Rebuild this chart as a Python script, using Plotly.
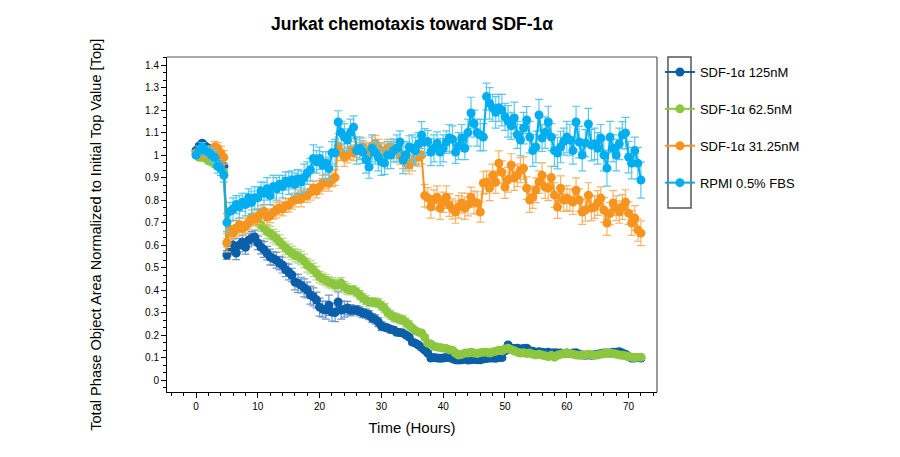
import plotly.graph_objects as go

# Sampling times (hours)
time_h = [
    0, 0.5, 1, 1.5, 2, 2.5, 3, 3.5, 4, 4.5,
    5, 5.5, 6, 6.5, 7, 7.5, 8, 8.5, 9, 9.5,
    10, 10.5, 11, 11.5, 12, 12.5, 13, 13.5, 14, 14.5,
    15, 15.5, 16, 16.5, 17, 17.5, 18, 18.5, 19, 19.5,
    20, 20.5, 21, 21.5, 22, 22.5, 23, 23.5, 24, 24.5,
    25, 25.5, 26, 26.5, 27, 27.5, 28, 28.5, 29, 29.5,
    30, 30.5, 31, 31.5, 32, 32.5, 33, 33.5, 34, 34.5,
    35, 35.5, 36, 36.5, 37, 37.5, 38, 38.5, 39, 39.5,
    40, 40.5, 41, 41.5, 42, 42.5, 43, 43.5, 44, 44.5,
    45, 45.5, 46, 46.5, 47, 47.5, 48, 48.5, 49, 49.5,
    50, 50.5, 51, 51.5, 52, 52.5, 53, 53.5, 54, 54.5,
    55, 55.5, 56, 56.5, 57, 57.5, 58, 58.5, 59, 59.5,
    60, 60.5, 61, 61.5, 62, 62.5, 63, 63.5, 64, 64.5,
    65, 65.5, 66, 66.5, 67, 67.5, 68, 68.5, 69, 69.5,
    70, 70.5, 71, 71.5, 72,
]

series_names = ["SDF-1α 125nM", "SDF-1α 62.5nM", "SDF-1α 31.25nM", "RPMI 0.5% FBS"]

sdf_125 = [
    1.02, 1.04, 1.053, 1.04, 1.03, 1.02, 1.00, 0.98, 0.96, 0.95,
    0.556, 0.58, 0.60, 0.565, 0.60, 0.613, 0.59, 0.622, 0.63, 0.636,
    0.61, 0.591, 0.58, 0.564, 0.547, 0.54, 0.533, 0.52, 0.511, 0.49,
    0.48, 0.467, 0.436, 0.43, 0.422, 0.41, 0.40, 0.378, 0.37, 0.356,
    0.324, 0.315, 0.311, 0.333, 0.302, 0.30, 0.347, 0.311, 0.315, 0.32,
    0.31, 0.311, 0.311, 0.305, 0.298, 0.295, 0.289, 0.276, 0.27, 0.258,
    0.24, 0.236, 0.231, 0.225, 0.222, 0.213, 0.211, 0.209, 0.20, 0.191,
    0.169, 0.164, 0.156, 0.145, 0.133, 0.12, 0.098, 0.10, 0.098, 0.097,
    0.098, 0.10, 0.10, 0.095, 0.09, 0.089, 0.09, 0.093, 0.089, 0.09,
    0.092, 0.09, 0.09, 0.094, 0.096, 0.098, 0.098, 0.097, 0.10, 0.10,
    0.13, 0.156, 0.142, 0.14, 0.142, 0.138, 0.14, 0.142, 0.13, 0.128,
    0.124, 0.126, 0.124, 0.122, 0.124, 0.12, 0.122, 0.12, 0.12, 0.118,
    0.12, 0.118, 0.12, 0.122, 0.115, 0.112, 0.11, 0.112, 0.11, 0.113,
    0.115, 0.118, 0.12, 0.12, 0.12, 0.124, 0.124, 0.126, 0.12, 0.115,
    0.105, 0.098, 0.098, 0.10, 0.098,
]

sdf_62 = [
    1.00, 0.99, 0.99, 0.987, 0.975, 0.97, 0.96, 0.95, 0.94, 0.92,
    0.61, 0.66, 0.655, 0.67, 0.685, 0.675, 0.685, 0.70, 0.71, 0.71,
    0.70, 0.69, 0.676, 0.66, 0.653, 0.64, 0.631, 0.615, 0.60, 0.587,
    0.575, 0.565, 0.556, 0.55, 0.542, 0.53, 0.51, 0.502, 0.49, 0.475,
    0.458, 0.45, 0.444, 0.435, 0.431, 0.422, 0.425, 0.431, 0.413, 0.405,
    0.40, 0.40, 0.39, 0.378, 0.364, 0.355, 0.347, 0.347, 0.345, 0.342,
    0.33, 0.32, 0.30, 0.29, 0.28, 0.276, 0.27, 0.267, 0.255, 0.244,
    0.231, 0.22, 0.213, 0.209, 0.19, 0.164, 0.16, 0.15, 0.147, 0.145,
    0.142, 0.14, 0.135, 0.133, 0.12, 0.111, 0.115, 0.12, 0.12, 0.124,
    0.12, 0.118, 0.122, 0.124, 0.124, 0.12, 0.125, 0.128, 0.133, 0.13,
    0.138, 0.142, 0.135, 0.13, 0.124, 0.12, 0.122, 0.118, 0.12, 0.115,
    0.112, 0.115, 0.111, 0.108, 0.105, 0.11, 0.102, 0.11, 0.115, 0.118,
    0.12, 0.118, 0.115, 0.112, 0.11, 0.111, 0.112, 0.115, 0.113, 0.11,
    0.112, 0.115, 0.118, 0.12, 0.12, 0.118, 0.115, 0.112, 0.11, 0.108,
    0.105, 0.102, 0.10, 0.102, 0.102,
]

sdf_31 = [
    1.01, 1.00, 1.02, 1.01, 1.00, 1.02, 1.036, 1.03, 1.01, 0.99,
    0.61, 0.67, 0.655, 0.675, 0.69, 0.675, 0.685, 0.70, 0.725, 0.715,
    0.725, 0.745, 0.75, 0.725, 0.73, 0.745, 0.756, 0.765, 0.76, 0.775,
    0.778, 0.795, 0.80, 0.815, 0.805, 0.82, 0.82, 0.835, 0.853, 0.84,
    0.858, 0.875, 0.88, 0.875, 0.89, 0.90, 1.04, 1.01, 0.99, 1.00,
    1.02, 1.01, 1.03, 1.02, 1.036, 1.01, 1.02, 1.04, 1.053, 1.03,
    1.02, 1.01, 1.03, 1.036, 1.03, 1.02, 1.00, 0.98, 0.964, 0.956,
    0.97, 0.99, 0.99, 1.00, 0.82, 0.81, 0.77, 0.80, 0.813, 0.764,
    0.79, 0.813, 0.778, 0.76, 0.747, 0.77, 0.787, 0.764, 0.78, 0.813,
    0.79, 0.787, 0.747, 0.876, 0.88, 0.853, 0.91, 0.88, 0.964, 0.924,
    0.858, 0.89, 0.956, 0.898, 0.91, 0.933, 0.942, 0.853, 0.80, 0.813,
    0.844, 0.88, 0.91, 0.858, 0.853, 0.90, 0.822, 0.769, 0.853, 0.80,
    0.809, 0.80, 0.791, 0.844, 0.80, 0.747, 0.756, 0.822, 0.764, 0.769,
    0.787, 0.809, 0.756, 0.698, 0.74, 0.787, 0.764, 0.747, 0.769, 0.791,
    0.742, 0.698, 0.72, 0.667, 0.653,
]

rpmi = [
    1.00, 1.02, 1.036, 1.02, 1.013, 1.00, 0.99, 0.95, 0.94, 0.91,
    0.70, 0.75, 0.76, 0.78, 0.77, 0.79, 0.78, 0.81, 0.79, 0.81,
    0.81, 0.84, 0.83, 0.85, 0.82, 0.86, 0.85, 0.87, 0.86, 0.885,
    0.875, 0.89, 0.87, 0.895, 0.88, 0.90, 0.92, 0.935, 0.985, 0.97,
    0.985, 0.955, 0.965, 0.94, 1.01, 1.01, 1.147, 1.10, 1.08, 1.067,
    1.10, 1.124, 1.02, 1.03, 1.013, 0.98, 0.947, 1.03, 1.01, 0.99,
    0.97, 0.964, 1.00, 1.00, 1.02, 1.03, 1.058, 0.978, 1.00, 1.036,
    1.03, 1.02, 1.05, 1.089, 1.058, 1.06, 1.013, 1.03, 1.053, 1.013,
    1.03, 1.058, 1.076, 1.07, 1.013, 1.04, 1.076, 1.03, 1.10, 1.187,
    1.14, 1.10, 1.089, 1.08, 1.26, 1.23, 1.21, 1.19, 1.21, 1.20,
    1.17, 1.15, 1.13, 1.165, 1.09, 1.067, 1.12, 1.156, 1.08, 1.02,
    1.036, 1.178, 1.076, 1.10, 1.147, 1.08, 1.02, 1.009, 1.036, 1.06,
    1.08, 1.067, 1.02, 1.147, 1.058, 1.00, 1.053, 1.138, 1.044, 1.05,
    1.03, 1.076, 1.00, 0.942, 1.08, 1.03, 1.00, 1.05, 1.089, 1.098,
    0.991, 0.964, 1.02, 0.964, 0.889,
]

# Standard error values
err_125 = [
    0.01, 0.01, 0.01, 0.01, 0.01, 0.01, 0.01, 0.01, 0.01, 0.01,
    0.02, 0.02, 0.03, 0.03, 0.03, 0.03, 0.03, 0.03, 0.03, 0.03,
    0.03, 0.03, 0.035, 0.03, 0.035, 0.03, 0.035, 0.03, 0.035, 0.03,
    0.035, 0.03, 0.035, 0.04, 0.035, 0.04, 0.035, 0.04, 0.04, 0.035,
    0.04, 0.035, 0.04, 0.045, 0.04, 0.04, 0.045, 0.04, 0.035, 0.03,
    0.025, 0.02, 0.02, 0.02, 0.02, 0.02, 0.02, 0.02, 0.02, 0.02,
    0.02, 0.015, 0.015, 0.015, 0.015, 0.015, 0.015, 0.015, 0.01, 0.01,
    0.01, 0.01, 0.01, 0.01, 0.01, 0.01, 0.01, 0.01, 0.01, 0.01,
    0.01, 0.01, 0.01, 0.01, 0.01, 0.01, 0.01, 0.01, 0.01, 0.01,
    0.01, 0.01, 0.01, 0.01, 0.01, 0.01, 0.01, 0.01, 0.01, 0.01,
    0.01, 0.01, 0.01, 0.01, 0.01, 0.01, 0.01, 0.01, 0.01, 0.01,
    0.01, 0.01, 0.01, 0.01, 0.01, 0.01, 0.01, 0.01, 0.01, 0.01,
    0.01, 0.01, 0.01, 0.01, 0.01, 0.01, 0.01, 0.01, 0.01, 0.01,
    0.01, 0.01, 0.01, 0.01, 0.01, 0.01, 0.01, 0.01, 0.01, 0.01,
    0.01, 0.01, 0.01, 0.01, 0.01,
]

err_62 = [
    0.01, 0.01, 0.01, 0.01, 0.01, 0.01, 0.01, 0.01, 0.01, 0.01,
    0.02, 0.02, 0.02, 0.02, 0.02, 0.02, 0.02, 0.02, 0.02, 0.02,
    0.03, 0.03, 0.03, 0.03, 0.03, 0.03, 0.03, 0.03, 0.03, 0.03,
    0.03, 0.03, 0.03, 0.03, 0.03, 0.03, 0.03, 0.03, 0.03, 0.03,
    0.025, 0.025, 0.025, 0.025, 0.025, 0.025, 0.025, 0.025, 0.025, 0.025,
    0.02, 0.02, 0.02, 0.02, 0.02, 0.02, 0.02, 0.02, 0.02, 0.02,
    0.02, 0.02, 0.02, 0.02, 0.02, 0.02, 0.02, 0.02, 0.02, 0.02,
    0.01, 0.01, 0.01, 0.01, 0.01, 0.01, 0.01, 0.01, 0.01, 0.01,
    0.01, 0.01, 0.01, 0.01, 0.01, 0.01, 0.01, 0.01, 0.01, 0.01,
    0.01, 0.01, 0.01, 0.01, 0.01, 0.01, 0.01, 0.01, 0.01, 0.01,
    0.01, 0.01, 0.01, 0.01, 0.01, 0.01, 0.01, 0.01, 0.01, 0.01,
    0.01, 0.01, 0.01, 0.01, 0.01, 0.01, 0.01, 0.01, 0.01, 0.01,
    0.01, 0.01, 0.01, 0.01, 0.01, 0.01, 0.01, 0.01, 0.01, 0.01,
    0.01, 0.01, 0.01, 0.01, 0.01, 0.01, 0.01, 0.01, 0.01, 0.01,
    0.01, 0.01, 0.01, 0.01, 0.01,
]

err_31 = [
    0.01, 0.01, 0.01, 0.01, 0.01, 0.02, 0.025, 0.025, 0.03, 0.03,
    0.04, 0.035, 0.03, 0.035, 0.03, 0.03, 0.035, 0.03, 0.03, 0.03,
    0.03, 0.03, 0.03, 0.035, 0.03, 0.03, 0.035, 0.03, 0.03, 0.03,
    0.03, 0.035, 0.03, 0.03, 0.035, 0.03, 0.03, 0.035, 0.03, 0.03,
    0.03, 0.035, 0.03, 0.035, 0.03, 0.035, 0.04, 0.035, 0.04, 0.035,
    0.04, 0.035, 0.04, 0.035, 0.04, 0.04, 0.035, 0.04, 0.035, 0.04,
    0.035, 0.04, 0.04, 0.035, 0.04, 0.035, 0.04, 0.04, 0.035, 0.04,
    0.04, 0.035, 0.04, 0.04, 0.05, 0.045, 0.05, 0.045, 0.05, 0.05,
    0.045, 0.05, 0.05, 0.045, 0.05, 0.05, 0.045, 0.05, 0.05, 0.045,
    0.05, 0.05, 0.045, 0.05, 0.05, 0.055, 0.05, 0.05, 0.055, 0.05,
    0.05, 0.055, 0.05, 0.055, 0.05, 0.055, 0.05, 0.05, 0.055, 0.05,
    0.055, 0.05, 0.055, 0.05, 0.055, 0.05, 0.055, 0.05, 0.055, 0.05,
    0.055, 0.05, 0.055, 0.055, 0.05, 0.055, 0.05, 0.055, 0.055, 0.05,
    0.055, 0.05, 0.055, 0.055, 0.05, 0.055, 0.055, 0.05, 0.055, 0.055,
    0.05, 0.055, 0.055, 0.05, 0.055,
]

err_rpmi = [
    0.01, 0.02, 0.02, 0.02, 0.02, 0.03, 0.03, 0.03, 0.03, 0.03,
    0.04, 0.04, 0.05, 0.04, 0.05, 0.04, 0.05, 0.04, 0.05, 0.05,
    0.05, 0.04, 0.05, 0.05, 0.04, 0.05, 0.05, 0.04, 0.05, 0.04,
    0.05, 0.04, 0.05, 0.04, 0.05, 0.06, 0.05, 0.05, 0.06, 0.05,
    0.05, 0.06, 0.05, 0.05, 0.05, 0.06, 0.05, 0.05, 0.06, 0.05,
    0.06, 0.05, 0.06, 0.05, 0.05, 0.06, 0.05, 0.06, 0.05, 0.06,
    0.06, 0.05, 0.06, 0.06, 0.05, 0.06, 0.05, 0.06, 0.06, 0.05,
    0.06, 0.06, 0.05, 0.06, 0.06, 0.05, 0.06, 0.06, 0.05, 0.06,
    0.06, 0.05, 0.06, 0.06, 0.05, 0.06, 0.06, 0.05, 0.06, 0.07,
    0.06, 0.06, 0.07, 0.06, 0.06, 0.07, 0.06, 0.07, 0.06, 0.07,
    0.06, 0.07, 0.06, 0.07, 0.06, 0.07, 0.07, 0.06, 0.07, 0.07,
    0.07, 0.07, 0.06, 0.07, 0.07, 0.06, 0.07, 0.07, 0.07, 0.06,
    0.07, 0.07, 0.06, 0.07, 0.07, 0.07, 0.06, 0.07, 0.07, 0.07,
    0.07, 0.06, 0.07, 0.08, 0.07, 0.06, 0.07, 0.07, 0.06, 0.07,
    0.07, 0.07, 0.06, 0.07, 0.08,
]

x_ticks = [0, 10, 20, 30, 40, 50, 60, 70]
y_ticks = [0, 0.1, 0.2, 0.3, 0.4, 0.5, 0.6, 0.7, 0.8, 0.9, 1, 1.1, 1.2, 1.3, 1.4]
y_tick_text = ["0", "0.1", "0.2", "0.3", "0.4", "0.5", "0.6", "0.7", "0.8", "0.9",
               "1", "1.1", "1.2", "1.3", "1.4"]

FONT = "Liberation Sans, Arial, Helvetica, sans-serif"

colors = ["#0b5ea8", "#8dc63f", "#f7941e", "#00aeef"]
err_colors = ["#6f97cc", "#b7da8e", "#f8b56a", "#5cc8f0"]
values = [sdf_125, sdf_62, sdf_31, rpmi]
errors = [err_125, err_62, err_31, err_rpmi]

fig = go.Figure()
for k in range(4):
    fig.add_trace(go.Scatter(
        x=time_h, y=values[k], name=series_names[k],
        mode="lines+markers",
        legendgroup="g%d" % k,
        line=dict(color=colors[k], width=2),
        marker=dict(color=colors[k], size=9),
        error_y=dict(type="data", array=errors[k], visible=True,
                     color=err_colors[k], thickness=1.2, width=4),
    ))

fig.update_layout(
    width=900, height=457,
    margin=dict(l=167, r=243, t=57, b=65),
    paper_bgcolor="white", plot_bgcolor="white",
    font=dict(family=FONT, color="#000"),
    title=dict(text="<b>Jurkat chemotaxis toward SDF-1α</b>",
               x=0.5, xref="paper", xanchor="center",
               y=0.948, yref="container", yanchor="middle",
               font=dict(size=17.5, family=FONT, color="#000")),
    showlegend=True,
    legend=dict(x=1.006, xanchor="left", y=1.0, yanchor="top",
                font=dict(size=13, family=FONT, color="#000"),
                bgcolor="rgba(0,0,0,0)", borderwidth=0,
                traceorder="grouped", tracegroupgap=17, itemwidth=30),
    xaxis=dict(range=[-4.7, 74.6], tickmode="array", tickvals=x_ticks,
               ticks="outside", ticklen=5, tickwidth=1, tickcolor="#000",
               minor=dict(ticks="outside", dtick=2, tick0=0, ticklen=3,
                          tickwidth=1, tickcolor="#000"),
               showline=True, linecolor="#000", linewidth=1, mirror=False,
               showgrid=False, zeroline=False,
               tickfont=dict(size=10, family=FONT, color="#000"),
               title=dict(text="Time (Hours)", standoff=11,
                          font=dict(size=15, family=FONT, color="#000"))),
    yaxis=dict(range=[-0.053, 1.436], tickmode="array", tickvals=y_ticks,
               ticktext=y_tick_text,
               ticks="outside", ticklen=5, tickwidth=1, tickcolor="#000",
               minor=dict(ticks="outside", dtick=0.1 / 3, tick0=0, ticklen=3,
                          tickwidth=1, tickcolor="#000"),
               showline=True, linecolor="#000", linewidth=1, mirror=False,
               showgrid=False, zeroline=False,
               tickfont=dict(size=10, family=FONT, color="#000")),
)

# y-axis title
fig.add_annotation(text="Total Phase Object Area Normalized to Initial Top Value [Top]",
                   xref="paper", yref="paper", x=-0.145, y=0.469,
                   xanchor="center", yanchor="middle", textangle=-90,
                   showarrow=False, font=dict(size=14.6, family=FONT, color="#000"))

# top and right frame lines
fig.add_shape(type="line", xref="paper", yref="paper", x0=0, x1=1, y0=1, y1=1,
              line=dict(color="#555", width=1.2))
fig.add_shape(type="line", xref="paper", yref="paper", x0=1, x1=1, y0=0, y1=1,
              line=dict(color="#555", width=1.2))
# legend symbol frame
fig.add_shape(type="rect", xref="paper", yref="paper",
              x0=1.0224, x1=1.0694, y0=0.549, y1=1.0,
              line=dict(color="#555", width=1.5), fillcolor="rgba(0,0,0,0)")

fig.write_html("out.html")
